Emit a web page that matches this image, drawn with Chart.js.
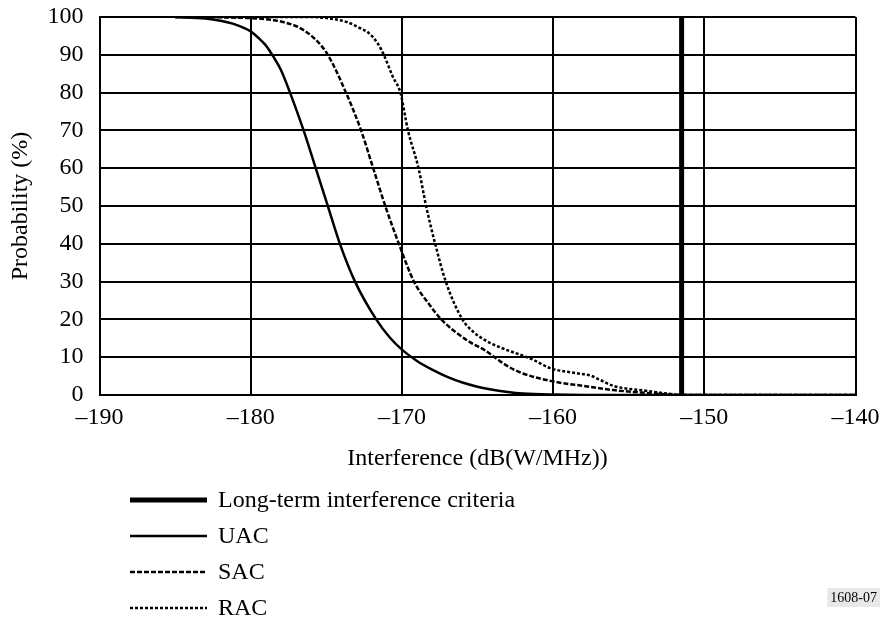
<!DOCTYPE html>
<html>
<head>
<meta charset="utf-8">
<script src="https://cdn.jsdelivr.net/npm/chart.js@4.4.1/dist/chart.umd.min.js"></script>
<style>
    html, body { margin: 0; padding: 0; background: #fff; }
    #wrap { width: 884px; height: 624px; }
</style>
</head>
<body>
<div id="wrap"><canvas id="chart" width="884" height="624"></canvas></div>
<script>
// values
const uacX = [-185, -183, -182, -181, -180, -179.5, -179, -178.5, -178, -177.4, -176.5, -175.7, -174.9, -174.1, -173.1, -171.7, -170.8, -170, -169, -168, -167, -166, -165, -164, -163, -162, -160, -158, -140];
const uacY = [100, 99.6, 99, 98, 96.2, 94.5, 92.5, 89.5, 86, 80, 70, 60, 50, 40, 30, 20, 15.2, 12, 9, 6.7, 4.8, 3.3, 2.2, 1.4, 0.8, 0.4, 0.1, 0, 0];

const sacX = [-185, -180, -178, -176.7, -175.7, -174.9, -173.7, -172.7, -171.9, -171.1, -170.2, -169.2, -168.2, -167.4, -166.5, -165.5, -164.5, -163.8, -163, -162, -160, -158, -156, -154, -152.5, -151, -140];
const sacY = [100, 99.7, 98.8, 97, 94, 90, 80, 70, 60, 50, 40, 30, 24, 20, 16.8, 14, 11.8, 9.8, 7.6, 5.7, 3.6, 2.4, 1.3, 0.6, 0.2, 0, 0];

const racX = [-185, -176, -174.6, -173.6, -172.8, -172.2, -171.6, -171.2, -170.6, -170.1, -169.6, -168.9, -168.4, -167.8, -167.1, -166, -165.3, -164.5, -163.5, -161.3, -160.2, -158.5, -157.5, -156.9, -156, -153.8, -152.3, -151.5, -140];
const racY = [100, 100, 99.5, 98.6, 97.1, 95.8, 93, 90, 84.2, 80, 70, 60, 50, 40, 30, 20, 16.8, 14.5, 12.6, 9.3, 7.1, 5.8, 5.1, 4.0, 2.4, 1.1, 0.3, 0, 0];

const criteriaX = [-151.5, -151.5];
const criteriaY = [0, 100];

const seriesNames = ['Long-term interference criteria', 'UAC', 'SAC', 'RAC'];
const xTicks = [-190, -180, -170, -160, -150, -140];
const yTicks = [0, 10, 20, 30, 40, 50, 60, 70, 80, 90, 100];
const xTitle = 'Interference (dB(W/MHz))';
const yTitle = 'Probability (%)';
const figNumber = '1608-07';

const FONT = '"Liberation Serif", "Times New Roman", serif';

function pts(xs, ys) {
    return xs.map((x, i) => ({ x: x, y: ys[i] }));
}

// legend under the axis title, drawn from the datasets themselves
const legendPlugin = {
    id: 'figLegend',
    afterDraw(chart) {
        const ctx = chart.ctx;
        ctx.save();
        chart.data.datasets.forEach((ds, i) => {
            const y = 500 + i * 36;
            ctx.beginPath();
            ctx.setLineDash(ds.borderDash || []);
            ctx.lineWidth = ds.borderWidth;
            ctx.strokeStyle = '#000';
            ctx.moveTo(130, y);
            ctx.lineTo(207, y);
            ctx.stroke();
            ctx.setLineDash([]);
            ctx.fillStyle = '#000';
            ctx.font = '24px ' + FONT;
            ctx.textBaseline = 'middle';
            ctx.textAlign = 'left';
            ctx.fillText(ds.label, 218, y + 1);
        });
        ctx.font = '14px ' + FONT;
        const w = ctx.measureText(figNumber).width;
        ctx.fillStyle = '#e8e8e8';
        ctx.fillRect(877 - w - 3, 588, w + 6, 19);
        ctx.fillStyle = '#000';
        ctx.textBaseline = 'middle';
        ctx.fillText(figNumber, 877 - w, 598);
        ctx.restore();
    }
};

new Chart(document.getElementById('chart'), {
    type: 'scatter',
    data: {
        datasets: [
            {
                label: seriesNames[0],
                data: pts(criteriaX, criteriaY),
                showLine: true,
                borderColor: '#000',
                borderWidth: 5,
                pointRadius: 0
            },
            {
                label: seriesNames[1],
                data: pts(uacX, uacY),
                showLine: true,
                borderColor: '#000',
                borderWidth: 2.5,
                pointRadius: 0,
                cubicInterpolationMode: 'monotone'
            },
            {
                label: seriesNames[2],
                data: pts(sacX, sacY),
                showLine: true,
                borderColor: '#000',
                borderWidth: 2.5,
                borderDash: [5, 2],
                pointRadius: 0,
                cubicInterpolationMode: 'monotone'
            },
            {
                label: seriesNames[3],
                data: pts(racX, racY),
                showLine: true,
                borderColor: '#000',
                borderWidth: 2.5,
                borderDash: [3, 2],
                pointRadius: 0,
                cubicInterpolationMode: 'monotone'
            }
        ]
    },
    options: {
        responsive: false,
        animation: false,
        layout: { padding: { top: 17, right: 28.5, left: 0, bottom: 151 } },
        plugins: {
            legend: { display: false },
            tooltip: { enabled: false }
        },
        scales: {
            x: {
                type: 'linear',
                min: -190,
                max: -140,
                afterFit: (s) => { s.height = 78; s.paddingLeft = 0; s.paddingRight = 0; },
                afterBuildTicks: (s) => { s.ticks = xTicks.map(v => ({ value: v })); },
                ticks: {
                    color: '#000',
                    font: { family: FONT, size: 24 },
                    padding: 8,
                    maxRotation: 0,
                    callback: (v) => String(v).replace('-', '\u2013')
                },
                grid: { color: '#000', lineWidth: 2, drawTicks: false },
                border: { color: '#000', width: 2 },
                title: {
                    display: true,
                    text: xTitle,
                    color: '#000',
                    font: { family: FONT, size: 24 },
                    padding: { top: 0, bottom: 0 }
                }
            },
            y: {
                min: 0,
                max: 100,
                afterFit: (s) => { s.width = 99.5; s.paddingTop = 0; s.paddingBottom = 0; },
                afterBuildTicks: (s) => { s.ticks = yTicks.map(v => ({ value: v })); },
                ticks: {
                    color: '#000',
                    font: { family: FONT, size: 24 },
                    padding: 16
                },
                grid: { color: '#000', lineWidth: 2, drawTicks: false },
                border: { color: '#000', width: 2 },
                title: {
                    display: true,
                    text: yTitle,
                    color: '#000',
                    font: { family: FONT, size: 24 },
                    padding: { top: 6, bottom: 0 }
                }
            }
        }
    },
    plugins: [legendPlugin]
});
</script>
</body>
</html>
